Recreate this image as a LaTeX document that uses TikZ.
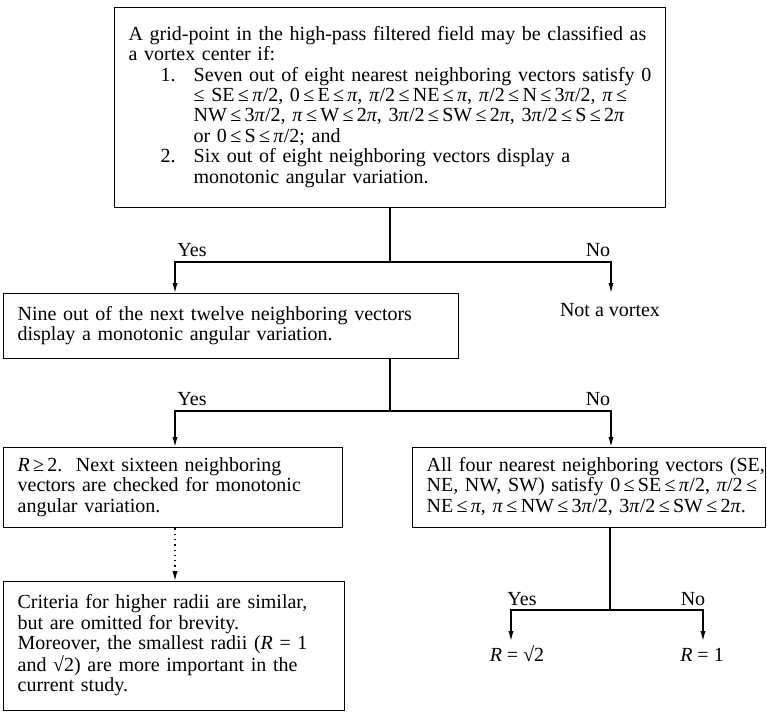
\documentclass[tikz,border=0pt]{standalone}
\usepackage{fontspec}
\setmainfont{Liberation Serif}
\usetikzlibrary{arrows.meta, positioning}

\newcommand{\vpi}{\textit{π}}
\newcommand{\lte}{\,≤\,}
\newcommand{\gte}{\,≥\,}
\newcommand{\itm}[1]{\hspace*{16pt}\makebox[16.5pt][l]{#1}}
\newcommand{\cnt}{\hspace*{32.5pt}}
\newcommand{\rows}[1]{\begin{tabular}{@{}l@{}}#1\end{tabular}}

\begin{document}
\begin{tikzpicture}[
    x=0.5pt, y=-0.5pt,
    box/.style={draw, line width=0.65pt, anchor=north west, align=left,
                inner xsep=7pt, inner ysep=0pt, font=\fontsize{10}{10.25}\selectfont},
    lbl/.style={font=\fontsize{10}{10.25}\selectfont, inner sep=1pt},
    rlbl/.style={lbl, anchor=north, inner ysep=3pt, text height=7pt, text depth=1pt},
    line/.style={line width=0.65pt},
    arr/.style={-{Latex[length=5pt, width=2.6pt]}, line width=0.65pt}
  ]
  \useasboundingbox (0,0) rectangle (767,712);

  % Test for a vortex center
  \node[box, text width=261.5pt, minimum height=100pt] (crit) at (114,7) {\rows{%
    A grid-point in the high-pass filtered field may be classified as\\
    a vortex center if:\\
    \itm{1.}Seven out of eight nearest neighboring vectors satisfy 0\\
    \cnt≤ SE\lte\vpi/2, 0\lte E\lte\vpi, \vpi/2\lte NE\lte\vpi, \vpi/2\lte N\lte 3\vpi/2, \vpi\lte\\
    \cnt NW\lte 3\vpi/2, \vpi\lte W\lte 2\vpi, 3\vpi/2\lte SW\lte 2\vpi, 3\vpi/2\lte S\lte 2\vpi\\
    \cnt or 0\lte S\lte\vpi/2; and\\
    \itm{2.}Six out of eight neighboring vectors display a\\
    \cnt monotonic angular variation.}};

  % Second level
  \node[box, text width=213.5pt, minimum height=32.5pt] (nine) at (3,293) {\rows{%
    Nine out of the next twelve neighboring vectors\\
    display a monotonic angular variation.}};
  \node[lbl, anchor=north, inner ysep=5pt] (novortex) at (610,293) {Not a vortex};

  % Third level
  \node[box, text width=155.5pt, minimum height=40pt] (rtwo) at (3,447) {\rows{%
    \textit{R}\gte 2.\ \ Next sixteen neighboring\\
    vectors are checked for monotonic\\
    angular variation.}};
  \node[box, text width=162.5pt, minimum height=40pt] (allfour) at (412,447) {\rows{%
    All four nearest neighboring vectors (SE,\\
    NE, NW, SW) satisfy 0\lte SE\lte\vpi/2, \vpi/2\lte\\
    NE\lte\vpi, \vpi\lte NW\lte 3\vpi/2, 3\vpi/2\lte SW\lte 2\vpi.}};

  % Bottom level
  \node[box, text width=156.5pt, minimum height=64.5pt] (higher) at (3,581) {\rows{%
    Criteria for higher radii are similar,\\
    but are omitted for brevity.\\
    Moreover, the smallest radii (\textit{R} = 1\\
    and √2) are more important in the\\
    current study.}};
  \node[rlbl] (rsqrt) at (517,641) {\textit{R} = √2};
  \node[rlbl] (rone) at (702,641) {\textit{R} = 1};

  % Junctions
  \coordinate (j1) at (390,262);
  \coordinate (j1l) at (175,262);
  \coordinate (j1r) at (611,262);
  \coordinate (j2) at (390,411);
  \coordinate (j2l) at (175,411);
  \coordinate (j2r) at (611,411);
  \coordinate (j3) at (610,610);
  \coordinate (j3l) at (511,610);
  \coordinate (j3r) at (703,610);

  % Arrows
  \draw[line] (crit.south -| j1) -- (j1);
  \draw[arr] (j1) -- (j1l) -- (nine.north -| j1l);
  \draw[arr] (j1) -- (j1r) -- (novortex.north -| j1r);
  \draw[line] (nine.south -| j2) -- (j2);
  \draw[arr] (j2) -- (j2l) -- (rtwo.north -| j2l);
  \draw[arr] (j2) -- (j2r) -- (allfour.north -| j2r);
  \draw[arr, dotted] (rtwo.south -| j2l) -- (higher.north -| j2l);
  \draw[line] (allfour.south -| j3) -- (j3);
  \draw[arr] (j3) -- (j3l) -- (rsqrt.north -| j3l);
  \draw[arr] (j3) -- (j3r) -- (rone.north -| j3r);

  % Labels
  \node[lbl] (yes1) at (192,250) {Yes};
  \node[lbl] (no1) at (598,250) {No};
  \node[lbl] (yes2) at (192,399) {Yes};
  \node[lbl] (no2) at (598,399) {No};
  \node[lbl] (yes3) at (522,599) {Yes};
  \node[lbl] (no3) at (693,599) {No};

\end{tikzpicture}
\end{document}
